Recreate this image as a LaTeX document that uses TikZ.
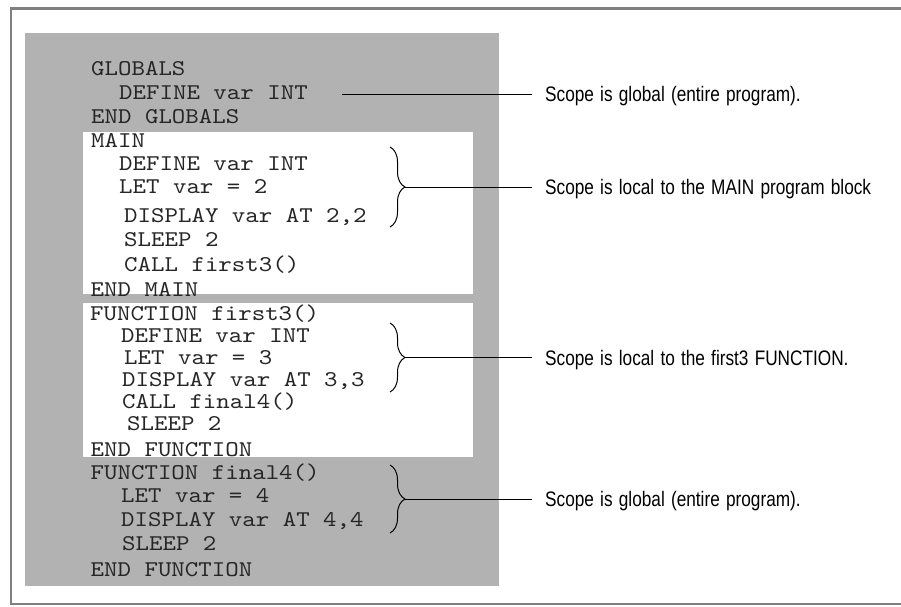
\documentclass[tikz,border=0pt]{standalone}
\usepackage{fontspec}
\setmainfont{Liberation Sans}[FakeStretch=0.82, WordSpace=1.3]
\newfontfamily\codefont{lmmono10-regular.otf}[FakeStretch=1.14]
\usetikzlibrary{decorations.pathreplacing}

\definecolor{framegray}{HTML}{808080}
\definecolor{panelgray}{HTML}{B2B2B2}

\begin{document}
\begin{tikzpicture}[x=1pt,y=-1pt,
  codeline/.style={anchor=base west, inner sep=0pt,
    font=\codefont\fontsize{22.5}{22.5}\selectfont, text=black!85},
  scopelabel/.style={anchor=west, inner xsep=13pt, inner ysep=0pt,
    text height=15pt, text depth=0pt, font=\fontsize{21}{21}\selectfont},
  leader/.style={draw=black, line width=1pt},
  scopebrace/.style={draw=black, line width=1pt, decorate,
    decoration={brace, amplitude=15pt}},
  blockbox/.style={fill=white, draw=none}
]
\useasboundingbox (0,0) rectangle (901,606);

% outer frame (open on the right)
\draw[framegray, line width=2.5pt] (901,8.5) -- (11,8.5) -- (11,604) -- (901,604);

% program panel and the two local blocks
\fill[panelgray] (25,33) rectangle (499,585.5);
\fill[blockbox] (83,132) rectangle (473,294);
\fill[blockbox] (83,303) rectangle (473,457);

% source lines
\node[codeline] (g1) at (91,75)  {GLOBALS};
\node[codeline] (g2) at (119,99) {DEFINE var INT};
\node[codeline] (g3) at (91,123) {END GLOBALS};

\node[codeline] (m1) at (91,147)  {MAIN};
\node[codeline] (m2) at (119,170) {DEFINE var INT};
\node[codeline] (m3) at (119,193) {LET var = 2};
\node[codeline] (m4) at (124,222) {DISPLAY var AT 2,2};
\node[codeline] (m5) at (124,246.5) {SLEEP 2};
\node[codeline] (m6) at (124,271) {CALL first3()};
\node[codeline] (m7) at (90.5,296.5) {END MAIN};

\node[codeline] (f1) at (90,320)  {FUNCTION first3()};
\node[codeline] (f2) at (121,342) {DEFINE var INT};
\node[codeline] (f3) at (124,364) {LET var = 3};
\node[codeline] (f4) at (122,386) {DISPLAY var AT 3,3};
\node[codeline] (f5) at (122,408) {CALL final4()};
\node[codeline] (f6) at (127,430) {SLEEP 2};
\node[codeline] (f7) at (90.5,456) {END FUNCTION};

\node[codeline] (h1) at (90.5,479) {FUNCTION final4()};
\node[codeline] (h2) at (121,502)  {LET var = 4};
\node[codeline] (h3) at (121,526)  {DISPLAY var AT 4,4};
\node[codeline] (h4) at (122,550)  {SLEEP 2};
\node[codeline] (h5) at (90.5,576) {END FUNCTION};

% scope descriptions
\node[scopelabel] (sGlobal) at (532,94)    {Scope is global (entire program).};
\node[scopelabel] (sMain)   at (532,187)   {Scope is local to the MAIN program block};
\node[scopelabel] (sFirst)  at (532,357.5) {Scope is local to the first3 FUNCTION.};
\node[scopelabel] (sFinal)  at (532,499)   {Scope is global (entire program).};

% braces grouping the statements of each block
\draw[scopebrace] (390,147) -- (390,227);
\coordinate (bMain) at (405,187);
\draw[scopebrace] (390,323) -- (390,392);
\coordinate (bFirst) at (405,357.5);
\draw[scopebrace] (390,465) -- (390,533);
\coordinate (bFinal) at (405,499);
\coordinate (gStart) at (342,94);

% leaders to the descriptions
\draw[leader] (gStart) -- (sGlobal.west);
\draw[leader] (bMain)  -- (sMain.west);
\draw[leader] (bFirst) -- (sFirst.west);
\draw[leader] (bFinal) -- (sFinal.west);
\end{tikzpicture}
\end{document}
